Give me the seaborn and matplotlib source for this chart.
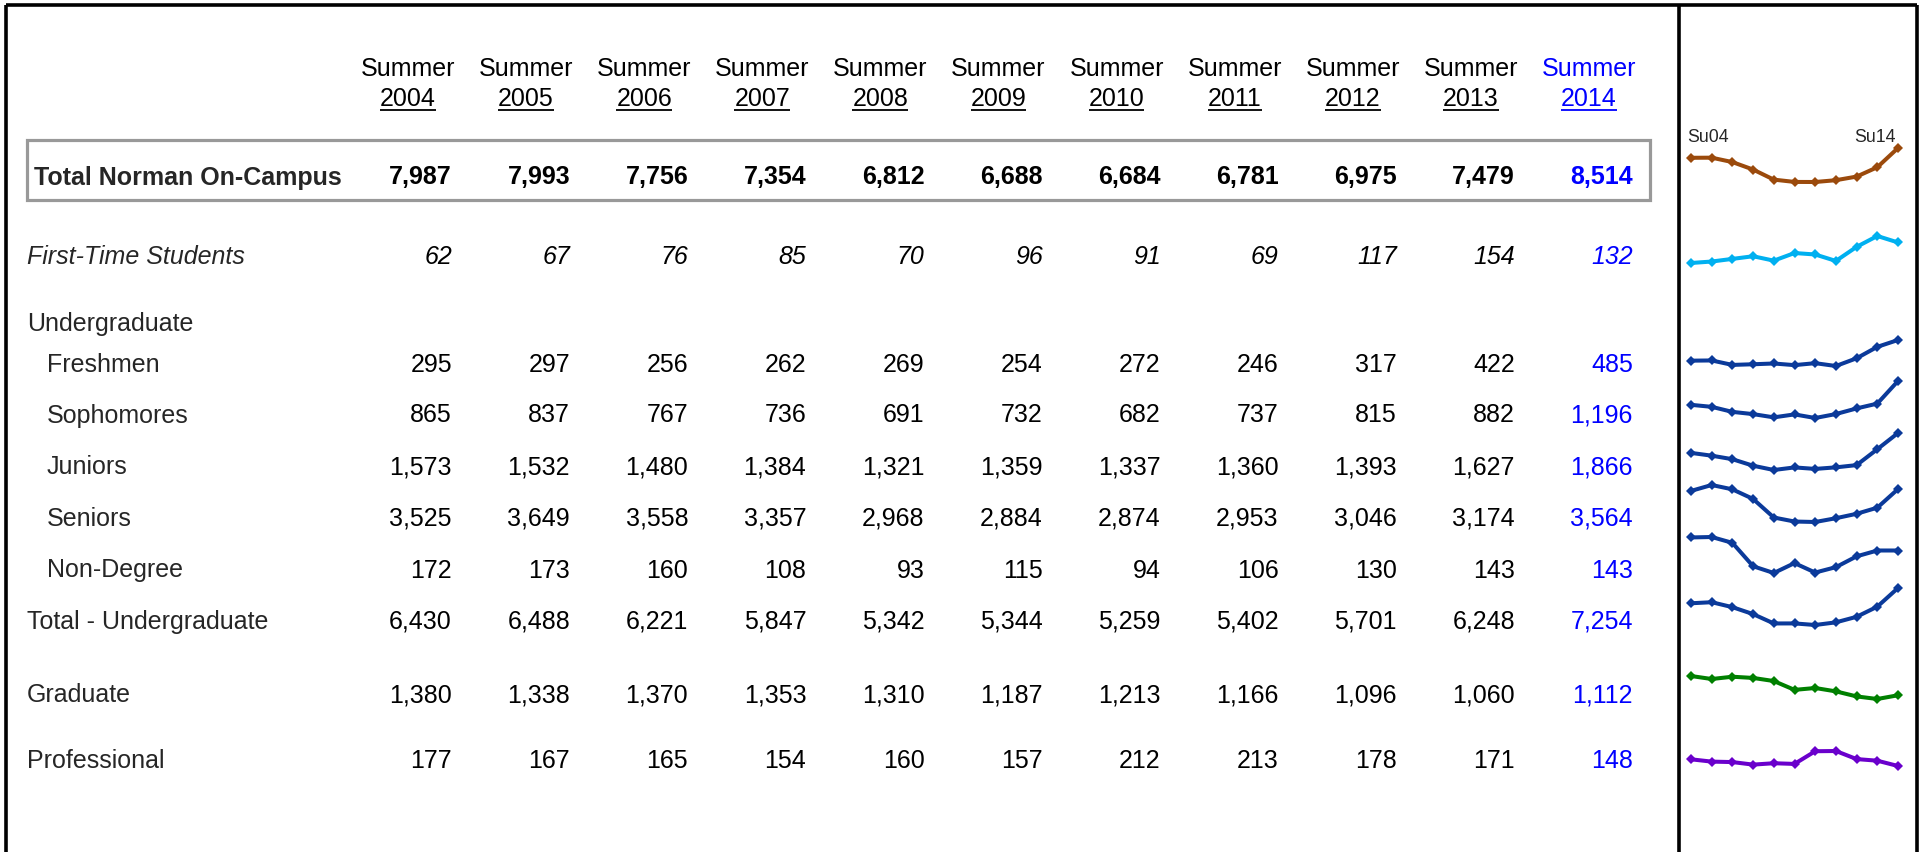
import numpy as np
import matplotlib
matplotlib.use("Agg")
import matplotlib.pyplot as plt
import matplotlib.patches as mpatches
import seaborn as sb
import pandas as pd

# DATA
#-----------------------
years = ["2004", "2005", "2006", "2007", "2008", "2009", "2010", "2011", "2012", "2013", "2014"]
spark_ticks = ["Su04", "Su14"]
row_labels = ["Total Norman On-Campus", "First-Time Students", "Freshmen", "Sophomores",
              "Juniors", "Seniors", "Non-Degree", "Total - Undergraduate", "Graduate", "Professional"]
section_label = "Undergraduate"

total_norman = [7987, 7993, 7756, 7354, 6812, 6688, 6684, 6781, 6975, 7479, 8514]
first_time = [62, 67, 76, 85, 70, 96, 91, 69, 117, 154, 132]
freshmen = [295, 297, 256, 262, 269, 254, 272, 246, 317, 422, 485]
sophomores = [865, 837, 767, 736, 691, 732, 682, 737, 815, 882, 1196]
juniors = [1573, 1532, 1480, 1384, 1321, 1359, 1337, 1360, 1393, 1627, 1866]
seniors = [3525, 3649, 3558, 3357, 2968, 2884, 2874, 2953, 3046, 3174, 3564]
non_degree = [172, 173, 160, 108, 93, 115, 94, 106, 130, 143, 143]
total_ug = [6430, 6488, 6221, 5847, 5342, 5344, 5259, 5402, 5701, 6248, 7254]
graduate = [1380, 1338, 1370, 1353, 1310, 1187, 1213, 1166, 1096, 1060, 1112]
professional = [177, 167, 165, 154, 160, 157, 212, 213, 178, 171, 148]

series = [total_norman, first_time, freshmen, sophomores, juniors, seniors,
          non_degree, total_ug, graduate, professional]

# LAYOUT (pixels)
#-----------------------
W, H = 1923, 852
dy = 2.5  # text baseline nudge
row_y = [175, 255, 362, 413, 465, 516, 568, 619, 693, 759]
label_x = [34, 27, 47, 47, 47, 47, 47, 27, 27, 27]
section_y = 321
col_right = [452 + 118.1 * i for i in range(11)]
head_x = [c - 44 for c in col_right]
spark_x = (1691, 1898)
spark_band = [(148, 182), (236, 263), (340, 366), (381, 418), (433, 470), (485, 522),
              (537, 573), (588, 625), (676, 699), (751, 766)]
dark_blue = "#0B3A9A"
spark_colors = ["#9B4A0C", "#00B0F0"] + [dark_blue] * 6 + ["#008000", "#6A00CC"]
accent = "#0000FF"
fs = 18

sb.set_theme(style="white")
plt.rcParams["font.family"] = ["Liberation Sans", "DejaVu Sans"]

fig = plt.figure(figsize=(W / 100, H / 100), dpi=100)
ax = fig.add_axes([0, 0, 1, 1])
ax.set_xlim(0, W)
ax.set_ylim(H, 0)
ax.axis("off")

# frame lines
lk = dict(color="black", lw=2.6, solid_capstyle="butt")
ax.plot([6, 6], [5, H], **lk)
ax.plot([6, 1917], [5, 5], **lk)
ax.plot([1917, 1917], [5, H], **lk)
ax.plot([1679, 1679], [5, H], **lk)
ax.add_patch(mpatches.Rectangle((27, 140), 1623, 60, fill=False, ec="#999999", lw=2.3))

# header
year_texts = []
for i, yr in enumerate(years):
    c = accent if i == len(years) - 1 else "black"
    ax.text(head_x[i], 67 + dy, "Summer", ha="center", va="center", fontsize=fs, color=c)
    t = ax.text(head_x[i], 97 + dy, yr, ha="center", va="center", fontsize=fs, color=c)
    year_texts.append((t, c))
ax.text(1708, 135 + dy, spark_ticks[0], ha="center", va="center", fontsize=12.8)
ax.text(1875, 135 + dy, spark_ticks[1], ha="center", va="center", fontsize=12.8)

# rows
ax.text(27, section_y + dy, section_label, ha="left", va="center", fontsize=fs)
for r, (lab, vals) in enumerate(zip(row_labels, series)):
    weight = "bold" if r == 0 else "normal"
    style = "italic" if r == 1 else "normal"
    ax.text(label_x[r], row_y[r] + dy, lab, ha="left", va="center", fontsize=fs,
            fontweight=weight, fontstyle=style)
    for i, v in enumerate(vals):
        c = accent if i == len(vals) - 1 else "black"
        ax.text(col_right[i], row_y[r] + dy, f"{v:,}", ha="right", va="center", fontsize=fs,
                fontweight=weight, fontstyle=style, color=c)

    # sparkline
    top, bot = spark_band[r]
    sax = fig.add_axes([spark_x[0] / W, 1 - bot / H, (spark_x[1] - spark_x[0]) / W, (bot - top) / H])
    df = pd.DataFrame({"year": np.arange(len(vals)), "value": vals})
    sb.lineplot(data=df, x="year", y="value", ax=sax, color=spark_colors[r], marker="D",
                markersize=5.2, markeredgewidth=0, linewidth=2.9)
    sax.set_xlim(0, len(vals) - 1)
    sax.set_ylim(min(vals), max(vals))
    sax.axis("off")
    for ln in sax.lines:
        ln.set_clip_on(False)

# underline the year labels
fig.canvas.draw()
renderer = fig.canvas.get_renderer()
inv = ax.transData.inverted()
for t, c in year_texts:
    bb = t.get_window_extent(renderer)
    x0, _ = inv.transform((bb.x0, bb.y0))
    x1, _ = inv.transform((bb.x1, bb.y0))
    ax.plot([x0, x1], [109.5, 109.5], color=c, lw=1.3, solid_capstyle="butt")

fig.savefig("out.png", dpi=100)
